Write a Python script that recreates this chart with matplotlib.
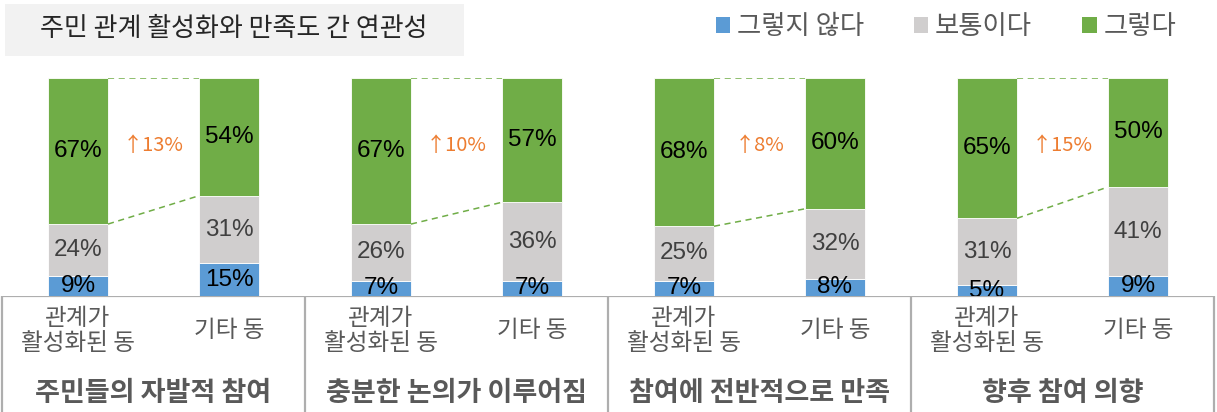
import numpy as np
import matplotlib
matplotlib.use("Agg")
import matplotlib.pyplot as plt
from matplotlib.patches import Rectangle, Patch

plt.rcParams["font.family"] = ["Noto Sans CJK KR", "DejaVu Sans"]

# data
groups = ["주민들의 자발적 참여", "충분한 논의가 이루어짐", "참여에 전반적으로 만족", "향후 참여 의향"]
sub_labels = ["관계가\n활성화된 동", "기타 동"]
series = ["그렇지 않다", "보통이다", "그렇다"]
colors = ["#5B9BD5", "#D0CECE", "#70AD47"]
label_colors = ["black", "#404040", "black"]

# active neighbourhoods
no_active = [9, 7, 7, 5]
mid_active = [24, 26, 25, 31]
yes_active = [67, 67, 68, 65]
# other neighbourhoods
no_other = [15, 7, 8, 9]
mid_other = [31, 36, 32, 41]
yes_other = [54, 57, 60, 50]

title = "주민 관계 활성화와 만족도 간 연관성"

W, H = 1217, 412
fig = plt.figure(figsize=(W / 100, H / 100), dpi=100)

xlim = (-78 / 303, (W - 78) / 303)
bar_w = 60 / 303
offset = 151 / 303

# bar axes
ax = fig.add_axes([0, (H - 296) / H, 1, (296 - 78) / H])
ax.set_xlim(*xlim)
ax.set_ylim(0, 100)
ax.axis("off")

x = np.arange(len(groups))
bar_data = [(x, [no_active, mid_active, yes_active]),
            (x + offset, [no_other, mid_other, yes_other])]

green_bottoms = []
for xs, vals in bar_data:
    vals = np.array(vals, dtype=float)
    tot = vals.sum(axis=0)
    norm = vals / tot * 100
    bottom = np.zeros(len(groups))
    for k in range(3):
        ax.bar(xs, norm[k], bar_w, bottom=bottom, color=colors[k],
               edgecolor="white", linewidth=0.6)
        for i in range(len(groups)):
            ax.text(xs[i], bottom[i] + norm[k][i] / 2, f"{int(vals[k][i])}%",
                    ha="center", va="center", fontsize=17.5,
                    family="Liberation Sans", color=label_colors[k], zorder=5)
        if k == 2:
            green_bottoms.append(bottom.copy())
        bottom = bottom + norm[k]

# dashed connectors and difference labels
for i in range(len(groups)):
    x0 = x[i] + bar_w / 2
    x1 = x[i] + offset - bar_w / 2
    ax.plot([x0, x1], [100, 100], ls=(0, (4, 3)), color="#70AD47", lw=1.1)
    ax.plot([x0, x1], [green_bottoms[0][i], green_bottoms[1][i]],
            ls=(0, (4, 3)), color="#70AD47", lw=1.1)
    diff = yes_active[i] - yes_other[i]
    ax.text(x[i] + offset / 2, 69, f"↑{diff}%", ha="center", va="center",
            fontsize=14.5, color="#ED7D31")

# category box
bx = fig.add_axes([0, 0, 1, (H - 296) / H])
bx.set_xlim(*xlim)
bx.set_ylim(0, 1)
bx.axis("off")
line_kw = dict(color="#AEAEAE", lw=1.6, solid_capstyle="butt")
left, right = -0.25, len(groups) - 0.25
bx.plot([left, right], [1, 1], **line_kw)
for b in np.arange(len(groups) + 1) - 0.25:
    bx.plot([b, b], [0, 1], **line_kw)
for i, g in enumerate(groups):
    bx.text(x[i], 0.70, sub_labels[0], ha="center", va="center",
            fontsize=17, color="#595959", linespacing=1.12)
    bx.text(x[i] + offset, 0.70, sub_labels[1], ha="center", va="center",
            fontsize=17, color="#595959")
    bx.text(x[i] + offset / 2, 0.165, g, ha="center", va="center",
            fontsize=19.5, fontweight="bold", color="#595959")

# title box
fig.patches.append(Rectangle((5 / W, (H - 56) / H), (464 - 5) / W, 52 / H,
                             transform=fig.transFigure, facecolor="#F2F2F2",
                             edgecolor="none"))
fig.text(234 / W, (H - 28) / H, title, ha="center", va="center",
         fontsize=18.7, color="#262626")

# legend
handles = [Patch(facecolor=c, edgecolor="none") for c in colors]
fig.legend(handles, series, loc="center right", bbox_to_anchor=(1176 / W, (H - 27) / H),
           ncol=3, frameon=False, fontsize=19, handlelength=0.55, handleheight=0.55,
           handletextpad=0.25, columnspacing=1.9, labelcolor="#595959",
           borderaxespad=0, borderpad=0)

fig.savefig("out.png", dpi=100)
